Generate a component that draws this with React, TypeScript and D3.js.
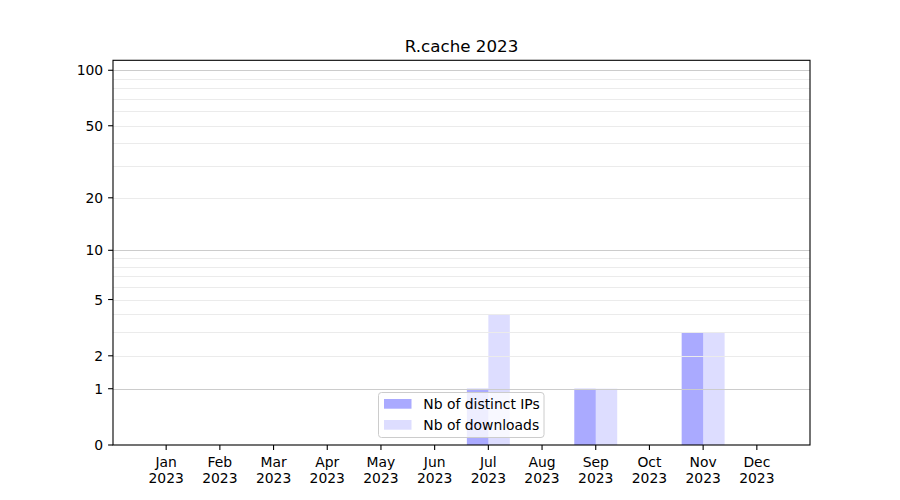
import React from "react";
import * as d3 from "d3";

const months = ["Jan", "Feb", "Mar", "Apr", "May", "Jun", "Jul", "Aug", "Sep", "Oct", "Nov", "Dec"];
const yearLabel = "2023";
const distinctIPs = [0, 0, 0, 0, 0, 0, 1, 0, 1, 0, 3, 0];
const downloads = [0, 0, 0, 0, 0, 0, 4, 0, 1, 0, 3, 0];
const yTickValues = [0, 1, 2, 5, 10, 20, 50, 100];
const majorGrid = [1, 10, 100];
const minorGrid = [2, 3, 4, 5, 6, 7, 8, 9, 20, 30, 40, 50, 60, 70, 80, 90];
const seriesNames = ["Nb of distinct IPs", "Nb of downloads"];
const title = "R.cache 2023";

const W = 900;
const H = 500;
const left = 113;
const right = 810;
const top = 60.3;
const bottom = 445;
const FONT = "DejaVu Sans, sans-serif";

export default function App() {
  const x = d3.scaleLinear().domain([-0.99, 11.99]).range([left, right]);
  const y = d3.scaleSymlog().constant(1).domain([0, 113.2]).range([bottom, top]);
  const barW = x(0.4) - x(0);
  const darkFill = "rgb(170,170,255)";
  const lightFill = "rgb(221,221,255)";

  const lg = { x: 378.5, y: 392.5, w: 165.5, h: 45 };

  return (
    <svg
      width={W}
      height={H}
      style={{ position: "absolute", left: 0, top: 0, background: "#fff" }}
      fontFamily={FONT}
    >
      <rect x={0} y={0} width={W} height={H} fill="#fff" />
      {/* bars */}
      {months.map((m, i) => (
        <g key={"b" + m}>
          {distinctIPs[i] > 0 && (
            <rect
              x={x(i) - barW}
              y={y(distinctIPs[i])}
              width={barW}
              height={y(0) - y(distinctIPs[i])}
              fill="blue"
              fillOpacity={0.333}
            />
          )}
          {downloads[i] > 0 && (
            <rect
              x={x(i)}
              y={y(downloads[i])}
              width={barW}
              height={y(0) - y(downloads[i])}
              fill="blue"
              fillOpacity={0.133}
            />
          )}
        </g>
      ))}
      {/* grid */}
      {minorGrid.map((v) => (
        <line
          key={"mg" + v}
          x1={left}
          x2={right}
          y1={Math.round(y(v)) + 0.5}
          y2={Math.round(y(v)) + 0.5}
          stroke="#ebebeb"
          strokeWidth={1}
        />
      ))}
      {majorGrid.map((v) => (
        <line
          key={"Mg" + v}
          x1={left}
          x2={right}
          y1={Math.round(y(v)) + 0.5}
          y2={Math.round(y(v)) + 0.5}
          stroke="#cccccc"
          strokeWidth={1}
        />
      ))}
      {/* axes frame */}
      <rect
        x={left}
        y={top}
        width={right - left}
        height={bottom - top}
        fill="none"
        stroke="#000"
        strokeWidth={1.1}
      />
      {/* y ticks */}
      {yTickValues.map((v) => (
        <g key={"yt" + v}>
          <line x1={left - 4.9} x2={left} y1={y(v)} y2={y(v)} stroke="#000" strokeWidth={1.1} />
          <text
            x={left - 9.8}
            y={y(v)}
            dy="0.36em"
            textAnchor="end"
            fontSize={13.9}
            fill="#000"
          >
            {v}
          </text>
        </g>
      ))}
      {/* x ticks */}
      {months.map((m, i) => (
        <g key={"xt" + m}>
          <line x1={x(i)} x2={x(i)} y1={bottom} y2={bottom + 4.9} stroke="#000" strokeWidth={1.1} />
          <text x={x(i)} y={466.5} textAnchor="middle" fontSize={13.9} fill="#000">
            {m}
          </text>
          <text x={x(i)} y={483} textAnchor="middle" fontSize={13.9} fill="#000">
            {yearLabel}
          </text>
        </g>
      ))}
      {/* title */}
      <text x={(left + right) / 2} y={52.3} textAnchor="middle" fontSize={16.7} fill="#000">
        {title}
      </text>
      {/* legend */}
      <rect
        x={lg.x}
        y={lg.y}
        width={lg.w}
        height={lg.h}
        rx={3}
        ry={3}
        fill="#fff"
        fillOpacity={0.8}
        stroke="#cccccc"
        strokeWidth={1}
      />
      {seriesNames.map((s, i) => (
        <g key={"lg" + s}>
          <rect
            x={384}
            y={399 + i * 21}
            width={27.5}
            height={9.7}
            fill={i === 0 ? darkFill : lightFill}
          />
          <text x={423.3} y={404 + i * 21} dy="0.36em" fontSize={13.9} fill="#000">
            {s}
          </text>
        </g>
      ))}
    </svg>
  );
}
